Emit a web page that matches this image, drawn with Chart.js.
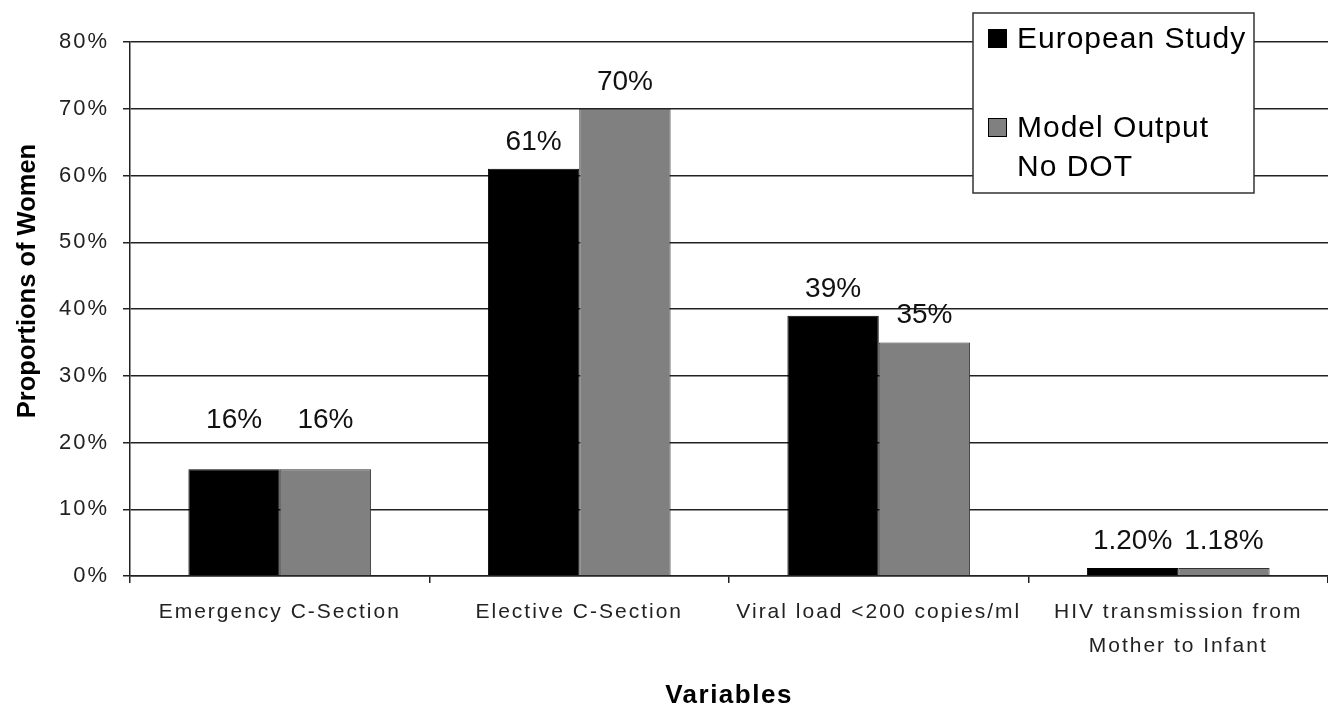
<!DOCTYPE html>
<html>
<head>
<meta charset="utf-8">
<script src="https://cdn.jsdelivr.net/npm/chart.js@4.4.0/dist/chart.umd.min.js"></script>
<style>
  html, body { margin: 0; padding: 0; background: #fff; }
  #wrap { width: 1328px; height: 707px; position: relative; }
</style>
</head>
<body>
<div id="wrap"><canvas id="c" width="1328" height="707"></canvas></div>
<script>
// Chart data
const categories = [
  'Emergency C-Section',
  'Elective C-Section',
  'Viral load <200 copies/ml',
  ['HIV transmission from', 'Mother to Infant']
];
const europeanStudy = [16, 61, 39, 1.20];
const modelOutputNoDot = [16, 70, 35, 1.18];
const seriesNames = [['European Study'], ['Model Output', 'No DOT']];
const yTicks = [0, 10, 20, 30, 40, 50, 60, 70, 80];
const xTitle = 'Variables';
const yTitle = 'Proportions of Women';

const FONT = '"Liberation Sans", Arial, sans-serif';

function fmtPct(v) {
  return (v < 10 ? v.toFixed(2) : v.toFixed(0)) + '%';
}

// Wider letter spacing for the axis tick labels only (scales are drawn before datasets)
const tickSpacing = {
  id: 'tickSpacing',
  beforeDraw(chart) { chart.ctx.letterSpacing = '2px'; },
  beforeDatasetsDraw(chart) { chart.ctx.letterSpacing = '0px'; }
};

// Value labels above each bar
const valueLabels = {
  id: 'valueLabels',
  afterDatasetsDraw(chart, args, opts) {
    const ctx = chart.ctx;
    ctx.save();
    ctx.letterSpacing = '0px';
    ctx.font = '28px ' + FONT;
    ctx.fillStyle = '#111';
    ctx.textAlign = 'center';
    ctx.textBaseline = 'alphabetic';
    chart.data.datasets.forEach((ds, di) => {
      chart.getDatasetMeta(di).data.forEach((bar, i) => {
        const lift = opts.lift[i];
        ctx.fillText(fmtPct(ds.data[i]), bar.x, bar.y - lift);
      });
    });
    ctx.restore();
  }
};

// Axis titles and the boxed legend
const decorations = {
  id: 'decorations',
  afterDraw(chart) {
    const ctx = chart.ctx;
    const area = chart.chartArea;
    ctx.save();
    ctx.fillStyle = '#000';

    // x title
    ctx.letterSpacing = '1.5px';
    ctx.font = 'bold 26px ' + FONT;
    ctx.textAlign = 'center';
    ctx.textBaseline = 'alphabetic';
    ctx.fillText(xTitle, (area.left + area.right) / 2, 703);

    // y title
    ctx.letterSpacing = '0px';
    ctx.save();
    ctx.translate(28, 281);
    ctx.rotate(-Math.PI / 2);
    ctx.font = 'bold 25.5px ' + FONT;
    ctx.textBaseline = 'middle';
    ctx.fillText(yTitle, 0, 0);
    ctx.restore();

    // legend box
    const bx = 973, by = 13, bw = 281, bh = 180;
    ctx.fillStyle = '#fff';
    ctx.fillRect(bx, by, bw, bh);
    ctx.strokeStyle = '#333';
    ctx.lineWidth = 1.5;
    ctx.strokeRect(bx, by, bw, bh);

    const rows = [29, 118];
    ctx.letterSpacing = '1px';
    ctx.font = '30px ' + FONT;
    ctx.textAlign = 'left';
    ctx.textBaseline = 'alphabetic';
    chart.data.datasets.forEach((ds, di) => {
      const top = rows[di];
      ctx.fillStyle = ds.backgroundColor;
      ctx.fillRect(988, top, 19, 19);
      ctx.strokeStyle = '#000';
      ctx.lineWidth = 1;
      ctx.strokeRect(988.5, top + 0.5, 18, 18);
      ctx.fillStyle = '#000';
      seriesNames[di].forEach((line, li) => {
        ctx.fillText(line, 1017, top + 19 + li * 39);
      });
    });
    ctx.restore();
  }
};

new Chart(document.getElementById('c'), {
  type: 'bar',
  data: {
    labels: categories,
    datasets: [
      {
        label: seriesNames[0].join(' '),
        data: europeanStudy,
        backgroundColor: '#000000',
        borderColor: '#000000',
        borderWidth: 1,
        categoryPercentage: 0.61,
        barPercentage: 1.0
      },
      {
        label: seriesNames[1].join(' '),
        data: modelOutputNoDot,
        backgroundColor: '#808080',
        borderColor: '#333333',
        borderWidth: 1,
        categoryPercentage: 0.61,
        barPercentage: 1.0
      }
    ]
  },
  options: {
    responsive: false,
    animation: false,
    layout: { padding: { top: 42, left: 0, right: 0, bottom: 0 } },
    plugins: {
      legend: { display: false },
      tooltip: { enabled: false },
      valueLabels: { lift: [41, 19, 19, 19] }
    },
    scales: {
      x: {
        grid: {
          display: true,
          drawOnChartArea: false,
          drawTicks: true,
          tickLength: 7,
          color: '#222',
          lineWidth: 1.5,
          offset: true
        },
        border: { display: true, color: '#222', width: 1.5 },
        ticks: {
          font: { family: FONT, size: 21, lineHeight: 1.62 },
          color: '#222',
          padding: 12,
          maxRotation: 0,
          autoSkip: false
        },
        afterFit(scale) { scale.height = 131; }
      },
      y: {
        min: 0,
        max: 80,
        afterBuildTicks(scale) { scale.ticks = yTicks.map(v => ({ value: v })); },
        grid: { color: '#222', lineWidth: 1.5, tickLength: 7 },
        border: { display: true, color: '#222', width: 1.5 },
        ticks: {
          callback: v => v + '%',
          font: { family: FONT, size: 22 },
          color: '#222',
          padding: 14
        },
        afterFit(scale) { scale.width = 130; }
      }
    }
  },
  plugins: [tickSpacing, valueLabels, decorations]
});
</script>
</body>
</html>
